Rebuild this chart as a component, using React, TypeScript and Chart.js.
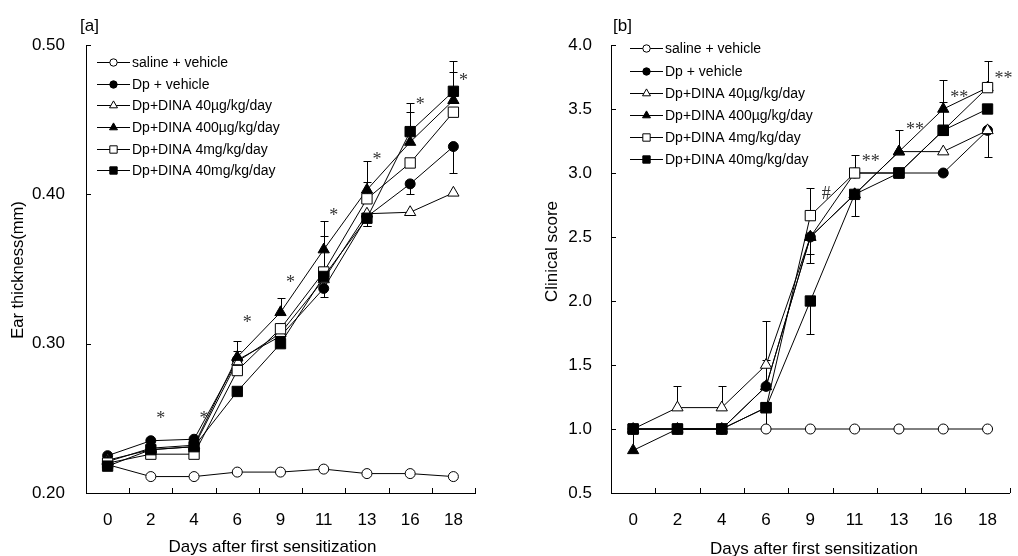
import React, { useEffect, useRef } from "react";
import { Chart, registerables } from "chart.js";
Chart.register(...registerables);

// ---------- data ----------
const days = ["0", "2", "4", "6", "9", "11", "13", "16", "18"];
const groupNames = [
  "saline + vehicle",
  "Dp + vehicle",
  "Dp+DINA 40µg/kg/day",
  "Dp+DINA 400µg/kg/day",
  "Dp+DINA 4mg/kg/day",
  "Dp+DINA 40mg/kg/day",
];

// Panel [a] ear thickness (mm)
const earSaline = [0.219, 0.211, 0.211, 0.214, 0.214, 0.216, 0.213, 0.213, 0.211];
const earDp = [0.225, 0.235, 0.236, 0.289, 0.305, 0.337, 0.385, 0.407, 0.432];
const earDina40ug = [0.222, 0.229, 0.231, 0.288, 0.307, 0.343, 0.387, 0.388, 0.401];
const earDina400ug = [0.221, 0.23, 0.232, 0.291, 0.321, 0.363, 0.403, 0.435, 0.463];
const earDina4mg = [0.22, 0.226, 0.226, 0.282, 0.31, 0.348, 0.397, 0.421, 0.455];
const earDina40mg = [0.218, 0.229, 0.231, 0.268, 0.3, 0.345, 0.384, 0.442, 0.469];
// error bars (SE); positive = drawn upward, negative = drawn downward
const earErrSaline = [0, 0, 0, 0, 0, 0, 0, 0, 0];
const earErrDp = [0, 0, 0, 0.006, 0, -0.006, 0, -0.007, -0.018];
const earErrDina40ug = [0, 0, 0, 0, 0, 0, -0.008, 0, 0];
const earErrDina400ug = [0, 0, 0, 0.011, 0.0095, 0.019, 0.019, 0.02, 0.019];
const earErrDina4mg = [0, 0, 0, 0, 0, 0.024, 0.011, 0, 0];
const earErrDina40mg = [0, 0, 0, 0, 0, 0, -0.0055, 0.019, 0.02];
const earSigMarks = ["", "*", "*", "*", "*", "*", "*", "*", "*"];
const earSigLevels = [null, 0.2525, 0.2525, 0.317, 0.3435, 0.3885, 0.426, 0.4627, 0.479];
const earTicks = [0.2, 0.3, 0.4, 0.5];

// Panel [b] clinical score
const scoreSaline = [1, 1, 1, 1, 1, 1, 1, 1, 1];
const scoreDp = [1, 1, 1, 1.333, 2.5, 3.0, 3.0, 3.0, 3.333];
const scoreDina40ug = [1, 1.167, 1.167, 1.5, 2.5, 2.833, 3.167, 3.167, 3.333];
const scoreDina400ug = [0.833, 1, 1, 1.333, 2.5, 2.833, 3.167, 3.5, 3.667];
const scoreDina4mg = [1, 1, 1, 1.167, 2.667, 3.0, 3.0, 3.333, 3.667];
const scoreDina40mg = [1, 1, 1, 1.167, 2.0, 2.833, 3.0, 3.333, 3.5];
const scoreErrSaline = [0, 0, 0, 0, 0, 0, 0, 0, 0];
const scoreErrDp = [0, 0, 0, 0.206, -0.133, 0, 0, 0, 0];
const scoreErrDina40ug = [0, 0.167, 0.167, 0.346, 0, 0, 0, 0, -0.21];
const scoreErrDina400ug = [0.167, 0, 0, 0, -0.203, 0, 0.167, 0.23, 0];
const scoreErrDina4mg = [0, 0, 0, 0, 0.213, 0.14, 0, 0, 0.21];
const scoreErrDina40mg = [0, 0, 0, -0.167, -0.258, -0.167, 0, 0.22, 0];
const scoreSigMarks = ["", "", "", "", "#", "**", "**", "**", "**"];
const scoreSigLevels = [null, null, null, null, 2.85, 3.12, 3.375, 3.62, 3.77];
const scoreTicks = [0.5, 1.0, 1.5, 2.0, 2.5, 3.0, 3.5, 4.0];

// ---------- styles ----------
const FONT = "'Liberation Sans', Arial, Helvetica, sans-serif";
const SIG_FONT = "'Liberation Serif', 'Times New Roman', serif";
const markerStyles = ["circle", "circle", "triangle", "triangle", "rect", "rect"];
const markerFilled = [false, true, false, true, false, true];
const markerRadius = [5, 5, 6.5, 6.5, 7.3, 7.3];
const legendRadius = [3.7, 3.7, 4.6, 4.6, 5.2, 5.2];

type Panel = {
  series: number[][];
  errors: number[][];
  sigMarks: string[];
  sigLevels: (number | null)[];
  ticks: number[];
  decimals: number;
  min: number;
  max: number;
  width: number;
  axisLeft: number;
  padRight: number;
  tickPad: number;
  panelLabel: string;
  panelLabelX: number;
  yTitle: string;
  yTitleX: number;
  yTitleY: number;
  yTitleSize: number;
  xTitleX: number;
  xTitleY: number;
  legendDx: number;
  legendDy: number;
  legendStep: number;
  sigOffset: number;
};

function drawMarker(ctx: CanvasRenderingContext2D, style: string, x: number, y: number, r: number, filled: boolean) {
  ctx.beginPath();
  if (style === "circle") {
    ctx.arc(x, y, r, 0, Math.PI * 2);
  } else if (style === "triangle") {
    let rad = 0;
    ctx.moveTo(x + Math.sin(rad) * r, y - Math.cos(rad) * r);
    rad += (2 * Math.PI) / 3;
    ctx.lineTo(x + Math.sin(rad) * r, y - Math.cos(rad) * r);
    rad += (2 * Math.PI) / 3;
    ctx.lineTo(x + Math.sin(rad) * r, y - Math.cos(rad) * r);
    ctx.closePath();
  } else {
    const s = Math.SQRT1_2 * r;
    ctx.rect(x - s, y - s, 2 * s, 2 * s);
  }
  ctx.fillStyle = filled ? "#000" : "#fff";
  ctx.fill();
  ctx.lineWidth = 1;
  ctx.strokeStyle = "#000";
  ctx.stroke();
}

function makeDecor(p: Panel) {
  return {
    id: "decor",
    beforeDatasetsDraw(chart: any) {
      const { ctx, scales } = chart;
      const xs = scales.x, ys = scales.y;
      ctx.save();
      ctx.strokeStyle = "#000";
      ctx.lineWidth = 1;
      chart.data.datasets.forEach((ds: any) => {
        (ds.errors as number[]).forEach((e, i) => {
          if (!e) return;
          const v = ds.data[i];
          const px = Math.round(xs.getPixelForValue(i)) + 0.5;
          const y0 = ys.getPixelForValue(v);
          const y1 = Math.round(ys.getPixelForValue(v + e)) + 0.5;
          ctx.beginPath();
          ctx.moveTo(px, y0);
          ctx.lineTo(px, y1);
          ctx.moveTo(px - 4, y1);
          ctx.lineTo(px + 4, y1);
          ctx.stroke();
        });
      });
      ctx.restore();
    },
    afterDraw(chart: any) {
      const { ctx, scales, chartArea } = chart;
      const xs = scales.x, ys = scales.y;
      ctx.save();
      ctx.strokeStyle = "#000";
      ctx.lineWidth = 1;
      // inward tick marks
      ctx.beginPath();
      ys.ticks.forEach((t: any) => {
        const py = Math.round(ys.getPixelForValue(t.value)) + 0.5;
        ctx.moveTo(chartArea.left, py);
        ctx.lineTo(chartArea.left + 5, py);
      });
      for (let i = 0; i < days.length; i++) {
        const a = xs.getPixelForValue(i);
        const b = i + 1 < days.length ? xs.getPixelForValue(i + 1) : a + (a - xs.getPixelForValue(i - 1));
        const px = Math.round((a + b) / 2) + 0.5;
        ctx.moveTo(px, chartArea.bottom);
        ctx.lineTo(px, chartArea.bottom - 5);
      }
      ctx.stroke();

      // significance marks
      ctx.fillStyle = "#333";
      ctx.font = `18px ${SIG_FONT}`;
      ctx.textAlign = "center";
      ctx.textBaseline = "alphabetic";
      p.sigMarks.forEach((m, i) => {
        const lvl = p.sigLevels[i];
        if (!m || lvl == null) return;
        const mt = ctx.measureText(m);
        const px = xs.getPixelForValue(i) + p.sigOffset;
        const py = ys.getPixelForValue(lvl) + (mt.actualBoundingBoxAscent - mt.actualBoundingBoxDescent) / 2;
        ctx.fillText(m, px, py);
      });

      // legend
      ctx.fillStyle = "#000";
      ctx.font = `14px ${FONT}`;
      ctx.textAlign = "left";
      ctx.textBaseline = "middle";
      chart.data.datasets.forEach((ds: any, i: number) => {
        const x0 = chartArea.left + p.legendDx;
        const y = Math.round(chartArea.top + p.legendDy + i * p.legendStep) + 0.5;
        ctx.beginPath();
        ctx.moveTo(x0, y);
        ctx.lineTo(x0 + 33, y);
        ctx.strokeStyle = "#000";
        ctx.lineWidth = 1;
        ctx.stroke();
        drawMarker(ctx, markerStyles[i], x0 + 16.5, y, legendRadius[i], markerFilled[i]);
        ctx.fillStyle = "#000";
        ctx.fillText(ds.label, x0 + 35, y + 1);
      });

      // panel label
      ctx.font = `17px ${FONT}`;
      ctx.textBaseline = "middle";
      ctx.textAlign = "left";
      ctx.fillText(p.panelLabel, p.panelLabelX, 26);

      // x title
      ctx.textAlign = "center";
      ctx.textBaseline = "alphabetic";
      ctx.fillText("Days after first sensitization", p.xTitleX, p.xTitleY);

      // y title
      ctx.save();
      ctx.translate(p.yTitleX, p.yTitleY);
      ctx.rotate(-Math.PI / 2);
      ctx.font = `${p.yTitleSize}px ${FONT}`;
      ctx.textAlign = "center";
      ctx.textBaseline = "middle";
      ctx.fillText(p.yTitle, 0, 0);
      ctx.restore();

      ctx.restore();
    },
  };
}

function makeChart(canvas: HTMLCanvasElement, p: Panel) {
  const datasets = p.series.map((data, i) => ({
    label: groupNames[i],
    data,
    errors: p.errors[i],
    borderColor: "#000",
    borderWidth: 1,
    pointStyle: markerStyles[i],
    pointRadius: markerRadius[i],
    pointHoverRadius: markerRadius[i],
    pointBorderWidth: 1,
    pointBorderColor: "#000",
    pointBackgroundColor: markerFilled[i] ? "#000" : "#fff",
    backgroundColor: markerFilled[i] ? "#000" : "#fff",
    fill: false,
    tension: 0,
    order: 5 - i,
    clip: false as any,
  }));
  return new Chart(canvas, {
    type: "line",
    data: { labels: days, datasets: datasets as any },
    plugins: [makeDecor(p) as any],
    options: {
      responsive: false,
      animation: false,
      devicePixelRatio: 1,
      events: [],
      layout: { padding: { top: 45, right: p.padRight, bottom: 0, left: 0 } },
      plugins: { legend: { display: false }, tooltip: { enabled: false } },
      scales: {
        x: {
          type: "category",
          offset: true,
          grid: { display: false, drawTicks: false },
          border: { display: true, color: "#000", width: 1 },
          ticks: { color: "#000", font: { family: FONT, size: 17 }, padding: 17, maxRotation: 0, autoSkip: false },
          afterFit: (s: any) => {
            s.height = 63;
          },
        },
        y: {
          type: "linear",
          min: p.min,
          max: p.max,
          grid: { display: false, drawTicks: false },
          border: { display: true, color: "#000", width: 1 },
          ticks: {
            color: "#000",
            font: { family: FONT, size: 17 },
            padding: p.tickPad,
            callback: (v: any) => Number(v).toFixed(p.decimals),
          },
          afterBuildTicks: (s: any) => {
            s.ticks = p.ticks.map((v) => ({ value: v }));
          },
          afterFit: (s: any) => {
            s.width = p.axisLeft;
          },
        },
      },
    } as any,
  });
}

const panelA: Panel = {
  series: [earSaline, earDp, earDina40ug, earDina400ug, earDina4mg, earDina40mg],
  errors: [earErrSaline, earErrDp, earErrDina40ug, earErrDina400ug, earErrDina4mg, earErrDina40mg],
  sigMarks: earSigMarks,
  sigLevels: earSigLevels,
  ticks: earTicks,
  decimals: 2,
  min: 0.2,
  max: 0.5,
  width: 520,
  axisLeft: 86,
  padRight: 45,
  tickPad: 21,
  panelLabel: "[a]",
  panelLabelX: 80,
  yTitle: "Ear thickness(mm)",
  yTitleX: 18.5,
  yTitleY: 270,
  yTitleSize: 16.5,
  xTitleX: 272.5,
  xTitleY: 552,
  legendDx: 11,
  legendDy: 17,
  legendStep: 21.66,
  sigOffset: 10,
};

const panelB: Panel = {
  series: [scoreSaline, scoreDp, scoreDina40ug, scoreDina400ug, scoreDina4mg, scoreDina40mg],
  errors: [scoreErrSaline, scoreErrDp, scoreErrDina40ug, scoreErrDina400ug, scoreErrDina4mg, scoreErrDina40mg],
  sigMarks: scoreSigMarks,
  sigLevels: scoreSigLevels,
  ticks: scoreTicks,
  decimals: 1,
  min: 0.5,
  max: 4.0,
  width: 498,
  axisLeft: 91,
  padRight: 2,
  tickPad: 19,
  panelLabel: "[b]",
  panelLabelX: 93,
  yTitle: "Clinical score",
  yTitleX: 32.5,
  yTitleY: 251.5,
  yTitleSize: 17,
  xTitleX: 294,
  xTitleY: 553.5,
  legendDx: 19,
  legendDy: 3.3,
  legendStep: 22.2,
  sigOffset: 16,
};

function PanelChart({ panel }: { panel: Panel }) {
  const ref = useRef<HTMLCanvasElement | null>(null);
  useEffect(() => {
    if (!ref.current) return;
    const chart = makeChart(ref.current, panel);
    return () => chart.destroy();
  }, [panel]);
  return <canvas ref={ref} width={panel.width} height={556} style={{ display: "block", width: panel.width, height: 556 }} />;
}

export default function App() {
  return (
    <div
      style={{
        position: "fixed",
        left: 0,
        top: 0,
        width: 1018,
        height: 556,
        display: "flex",
        background: "#fff",
        overflow: "hidden",
      }}
    >
      <PanelChart panel={panelA} />
      <PanelChart panel={panelB} />
    </div>
  );
}
